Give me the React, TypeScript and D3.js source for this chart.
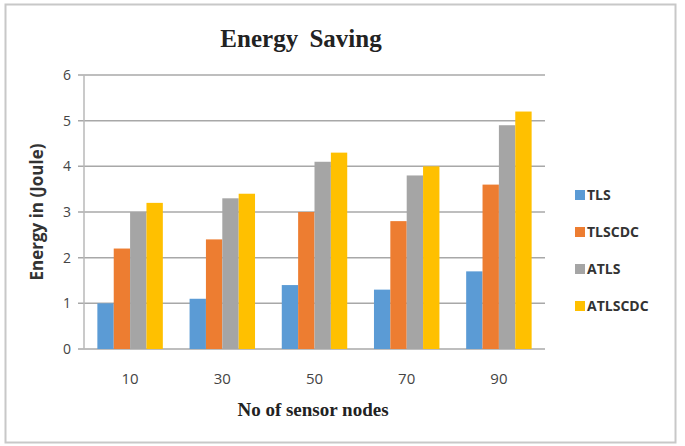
import React, { useEffect, useRef } from 'react';
import * as d3 from 'd3';

const categories = ['10', '30', '50', '70', '90'];
const seriesNames = ['TLS', 'TLSCDC', 'ATLS', 'ATLSCDC'];
const tls = [1.0, 1.1, 1.4, 1.3, 1.7];
const tlscdc = [2.2, 2.4, 3.0, 2.8, 3.6];
const atls = [3.0, 3.3, 4.1, 3.8, 4.9];
const atlscdc = [3.2, 3.4, 4.3, 4.0, 5.2];
const yTicks = [0, 1, 2, 3, 4, 5, 6];
const colors = ['#5B9BD5', '#ED7D31', '#A5A5A5', '#FFC000'];

const App = () => {
    const svgRef = useRef<SVGSVGElement>(null);

    useEffect(() => {
        const svg = d3.select(svgRef.current);
        svg.selectAll('*').remove(); // clear before drawing

        const left = 84, right = 545, top = 75, bottom = 349;
        const values = [tls, tlscdc, atls, atlscdc];

        // outer frame
        svg.append('rect')
            .attr('x', 5.5).attr('y', 4.5)
            .attr('width', 670).attr('height', 438)
            .attr('fill', '#fff')
            .attr('stroke', '#c8c8c8')
            .attr('stroke-width', 2);

        const x0 = d3.scaleBand().domain(categories).range([left, right]).paddingInner(0.29).paddingOuter(0.145);
        const x1 = d3.scaleBand().domain(seriesNames).range([0, x0.bandwidth()]);
        const y = d3.scaleLinear().domain([0, 6]).range([bottom, top]);

        // gridlines
        svg.append('g').selectAll('line')
            .data(yTicks)
            .enter().append('line')
            .attr('x1', left - 6).attr('x2', right)
            .attr('y1', d => y(d)).attr('y2', d => y(d))
            .attr('stroke', '#a8a8a8')
            .attr('stroke-width', 1.5);

        // y axis line
        svg.append('line')
            .attr('x1', left).attr('x2', left)
            .attr('y1', top).attr('y2', bottom)
            .attr('stroke', '#b8b8b8')
            .attr('stroke-width', 1.5);

        // y labels
        svg.append('g').selectAll('text')
            .data(yTicks)
            .enter().append('text')
            .attr('x', 67).attr('y', d => y(d) + 5)
            .attr('text-anchor', 'middle')
            .attr('font-family', 'Open Sans, sans-serif')
            .attr('font-size', 14)
            .attr('fill', '#444')
            .text(d => d);

        // bars
        const groups = svg.append('g').selectAll('g')
            .data(categories)
            .enter().append('g')
            .attr('transform', d => `translate(${x0(d)},0)`);

        groups.selectAll('rect')
            .data((_, i) => seriesNames.map((s, j) => ({ s, v: values[j][i], c: colors[j] })))
            .enter().append('rect')
            .attr('x', d => x1(d.s)!)
            .attr('y', d => y(d.v))
            .attr('width', x1.bandwidth())
            .attr('height', d => bottom - y(d.v))
            .attr('fill', d => d.c);

        // x labels
        svg.append('g').selectAll('text')
            .data(categories)
            .enter().append('text')
            .attr('x', d => x0(d)! + x0.bandwidth() / 2)
            .attr('y', 384)
            .attr('text-anchor', 'middle')
            .attr('font-family', 'Open Sans, sans-serif')
            .attr('font-size', 15)
            .attr('fill', '#444')
            .text(d => d);

        // titles
        svg.append('text')
            .attr('x', 301).attr('y', 47)
            .attr('text-anchor', 'middle')
            .attr('font-family', 'Liberation Serif, Times New Roman, serif')
            .attr('font-weight', 'bold')
            .attr('font-size', 25)
            .attr('fill', '#222')
            .attr('word-spacing', 5)
            .text('Energy Saving');

        svg.append('text')
            .attr('x', 313).attr('y', 416)
            .attr('text-anchor', 'middle')
            .attr('font-family', 'Liberation Serif, Times New Roman, serif')
            .attr('font-weight', 'bold')
            .attr('font-size', 19)
            .attr('fill', '#222')
            .text('No of sensor nodes');

        svg.append('text')
            .attr('transform', 'translate(43,212) rotate(-90)')
            .attr('text-anchor', 'middle')
            .attr('font-family', 'Open Sans, sans-serif')
            .attr('font-weight', 'bold')
            .attr('font-size', 17)
            .attr('fill', '#333')
            .text('Energy in (Joule)');

        // legend
        const legend = svg.append('g').selectAll('g')
            .data(seriesNames)
            .enter().append('g')
            .attr('transform', (d, i) => `translate(575,${190 + i * 37})`);

        legend.append('rect')
            .attr('width', 10).attr('height', 10)
            .attr('fill', (d, i) => colors[i]);

        legend.append('text')
            .attr('x', 12).attr('y', 10)
            .attr('font-family', 'Open Sans, sans-serif')
            .attr('font-size', 14)
            .attr('font-weight', 'bold')
            .attr('fill', '#333')
            .text(d => d);
    }, []);

    return (
        <svg ref={svgRef} width={685} height={446}
            style={{ position: 'absolute', left: 0, top: 0, background: '#fff' }} />
    );
};

export default App;
